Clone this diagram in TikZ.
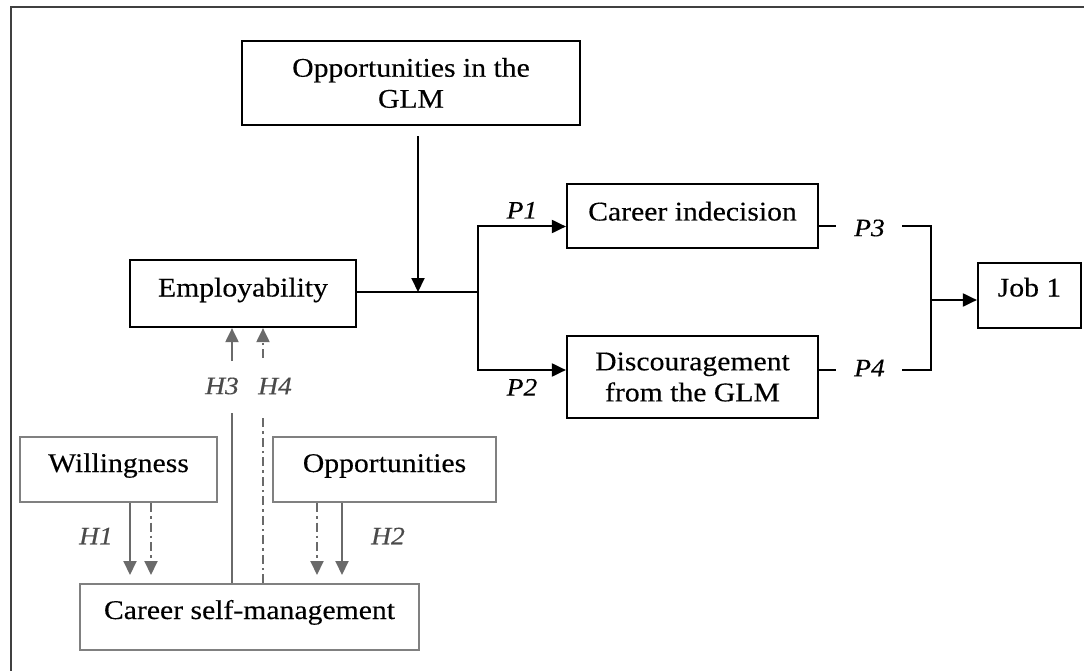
\documentclass[tikz,border=0pt]{standalone}
\usepackage{fontspec}
\setmainfont{Liberation Serif}[FakeStretch=1.1, FakeBold=0.3]
\usetikzlibrary{arrows.meta,calc}
\definecolor{boxgray}{HTML}{808080}
\definecolor{arrgray}{HTML}{6A6A6A}
\definecolor{labgray}{HTML}{4A4A4A}
\definecolor{framegray}{HTML}{404040}

\begin{document}
\begin{tikzpicture}[x=1pt,y=-1pt,
  font=\fontsize{27}{31}\selectfont,
  box/.style={draw=black, line width=2.2pt, inner sep=0pt, align=center},
  gbox/.style={draw=boxgray, line width=2pt, inner sep=0pt, align=center},
  lift/.style={text height=18pt, text depth=#1},
  conn/.style={line width=2pt, draw=black},
  tip/.style={-{Triangle[length=14pt,width=13pt]}},
  garr/.style={line width=2pt, draw=arrgray},
  dashdot/.style={dash pattern=on 9pt off 4pt on 2.5pt off 4pt},
  plab/.style={font=\fontsize{25}{28}\selectfont\itshape, inner sep=0pt},
  hlab/.style={font=\fontsize{25}{28}\selectfont\itshape, text=labgray, inner sep=0pt},
]
\useasboundingbox (0,0) rectangle (1084,671);

% outer frame (top and left edges)
\draw[framegray, line width=1.5pt] (11,680) -- (11,7) -- (1095,7);

% main boxes
\node[box, minimum width=338, minimum height=84] (glm) at (411,83)
  {Opportunities in the\\GLM};
\node[box, lift=12pt, minimum width=226, minimum height=67] (emp) at (243,293.5)
  {Employability};
\node[box, lift=9pt, minimum width=251, minimum height=64] (ci) at (692.5,216)
  {Career indecision};
\node[box, minimum width=251, minimum height=82] (disc) at (692.5,377)
  {Discouragement\\from the GLM};
\node[box, lift=16pt, minimum width=103, minimum height=65] (job) at (1029.5,295.5)
  {Job 1};

% antecedent boxes
\node[gbox, lift=13pt, minimum width=197, minimum height=65] (will) at (118.5,469.5)
  {Willingness};
\node[gbox, lift=13pt, minimum width=223, minimum height=65] (opp) at (384.5,469.5)
  {Opportunities};
\node[gbox, lift=14pt, minimum width=339, minimum height=66] (csm) at (249.5,617)
  {Career self-management};

% moderator and mediation paths
\coordinate (mod) at (418,292);
\coordinate (split) at (478,292);
\coordinate (merge) at (931,300);

\draw[conn, tip] ($(glm.south)+(7,10)$) -- (mod);
\draw[conn] (emp.east |- split) -- (split);
\draw[conn, tip] (split) |- ($(ci.west)+(0,10.5)$)
  node[plab, pos=0.75, above=7pt] {P1};
\draw[conn, tip] (split) |- ($(disc.west)+(0,-7)$)
  node[plab, pos=0.75, below=8pt] {P2};

\draw[conn] ($(ci.east)+(0,10)$) -- (merge |- {$(ci.east)+(0,10)$})
  node[plab, pos=0.45, fill=white, minimum width=66pt, minimum height=20pt, yshift=-2pt] {P3}
  -- (merge |- {$(disc.east)+(0,-7)$})
  -- ($(disc.east)+(0,-7)$)
  node[plab, pos=0.55, fill=white, minimum width=66pt, minimum height=20pt, yshift=2pt] {P4};
\draw[conn, tip] (merge) -- (job.west |- merge);

% hypotheses H1 and H2
\draw[garr, tip] (will.south -| 130,0) -- (130,575);
\draw[garr, tip, dashdot] (will.south -| 151,0) -- (151,575);
\draw[garr, tip, dashdot] (opp.south -| 317,0) -- (317,575);
\draw[garr, tip] (opp.south -| 342,0) -- (342,575);
\node[hlab] (h1) at (96,536) {H1};
\node[hlab] (h2) at (388,536) {H2};

% hypotheses H3 and H4
\draw[garr] (csm.north -| 232,0) -- (232,413);
\draw[garr, tip] (232,361) -- (emp.south -| 232,0);
\draw[garr, dashdot] (csm.north -| 263,0) -- (263,417);
\draw[garr, tip, dashdot] (263,358) -- (emp.south -| 263,0);
\node[hlab] (h3) at (222,386) {H3};
\node[hlab] (h4) at (275,386) {H4};
\end{tikzpicture}
\end{document}
